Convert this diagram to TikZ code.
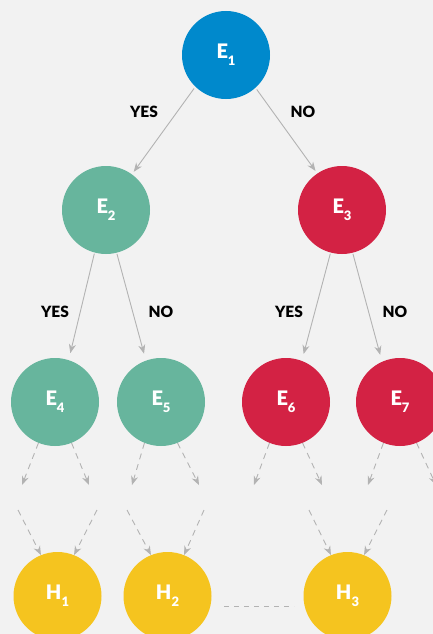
\documentclass[tikz,border=0pt]{standalone}
\usepackage{fontspec}
\setmainfont{Lato}[BoldFont={Lato Black}]
\usetikzlibrary{arrows.meta}
\definecolor{bg}{HTML}{F2F2F2}
\definecolor{cblue}{HTML}{0089CC}
\definecolor{cgreen}{HTML}{67B59D}
\definecolor{cred}{HTML}{D32244}
\definecolor{cyellow}{HTML}{F5C41F}
\definecolor{cgray}{HTML}{B3B3B3}
\newcommand{\lbl}[2]{\bfseries\fontsize{20}{20}\selectfont #1\raisebox{-7pt}{\fontsize{13}{13}\selectfont #2}}
\begin{document}
\begin{tikzpicture}[x=1pt,y=-1pt,
  ev/.style={circle,minimum size=88pt,inner sep=0pt,text=white},
  yn/.style={font=\bfseries\fontsize{15.5}{15.5}\selectfont,text=black},
  conn/.style={draw=cgray,line width=0.9pt,-{Stealth[length=9pt,width=7pt]}},
  dconn/.style={draw=cgray,line width=0.9pt,dash pattern=on 6pt off 5pt,-{Stealth[length=9pt,width=7pt]}},
  dline/.style={draw=cgray,line width=1pt,dash pattern=on 5pt off 5pt}]
\useasboundingbox (0,0) rectangle (433,634);
\clip (0,0) rectangle (433,634);
\fill[bg] (0,0) rectangle (433,634);
% nodes
\node[ev,fill=cblue] (E1) at (226,55) {\lbl{E}{1}};
\node[ev,fill=cgreen] (E2) at (106,210) {\lbl{E}{2}};
\node[ev,fill=cred] (E3) at (342,210) {\lbl{E}{3}};
\node[ev,fill=cgreen] (E4) at (55,402) {\lbl{E}{4}};
\node[ev,fill=cgreen] (E5) at (161,402) {\lbl{E}{5}};
\node[ev,fill=cred] (E6) at (286,402) {\lbl{E}{6}};
\node[ev,fill=cred] (E7) at (400,402) {\lbl{E}{7}};
\node[ev,fill=cyellow] (H1) at (57.5,596) {\lbl{H}{1}};
\node[ev,fill=cyellow] (H2) at (167.5,596) {\lbl{H}{2}};
\node[ev,fill=cyellow] (H3) at (347.5,596) {\lbl{H}{3}};
% labels
\node[yn] (l1) at (144,112) {YES};
\node[yn] (l2) at (303,112) {NO};
\node[yn] (l3) at (55,312) {YES};
\node[yn] (l4) at (161,312) {NO};
\node[yn] (l5) at (289,312) {YES};
\node[yn] (l6) at (395,312) {NO};
% solid connectors
\draw[conn,shorten >=3pt,shorten <=2pt] (E1.-134) -- (E2.54);
\draw[conn,shorten >=3pt,shorten <=2pt] (E1.-48) -- (E3.124);
\draw[conn,shorten >=7pt,shorten <=1pt] (E2.-105) -- (E4.72);
\draw[conn,shorten >=7pt,shorten <=1pt] (E2.-76) -- (E5.110);
\draw[conn,shorten >=7pt,shorten <=1pt] (E3.-105) -- (E6.69);
\draw[conn,shorten >=7pt,shorten <=1pt] (E3.-76) -- (E7.114);
% dashed continuations below E nodes
\coordinate (a1) at (22,485);
\coordinate (a2) at (89,485);
\coordinate (a3) at (132,485);
\coordinate (a4) at (199,485);
\coordinate (a5) at (254,485);
\coordinate (a6) at (322,485);
\coordinate (a7) at (368,485);
\coordinate (a8) at (436,485);
\draw[dconn] (E4.-112) -- (a1);
\draw[dconn] (E4.-68) -- (a2);
\draw[dconn] (E5.-112) -- (a3);
\draw[dconn] (E5.-68) -- (a4);
\draw[dconn] (E6.-112) -- (a5);
\draw[dconn] (E6.-68) -- (a6);
\draw[dconn] (E7.-112) -- (a7);
\draw[dconn] (E7.-68) -- (a8);
% dashed arrows into H nodes
\coordinate (b1) at (18,510);
\coordinate (b2) at (97,510);
\coordinate (b3) at (127,510);
\coordinate (b4) at (204,510);
\coordinate (b5) at (309,510);
\coordinate (b6) at (387,510);
\draw[dconn] (b1) -- (H1.112);
\draw[dconn] (b2) -- (H1.68);
\draw[dconn] (b3) -- (H2.112);
\draw[dconn] (b4) -- (H2.68);
\draw[dconn] (b5) -- (H3.112);
\draw[dconn] (b6) -- (H3.68);
% dashed link between H2 and H3
\coordinate (d1) at (224,606);
\coordinate (d2) at (294,606);
\draw[dline] (d1) -- (d2);
\end{tikzpicture}
\end{document}
